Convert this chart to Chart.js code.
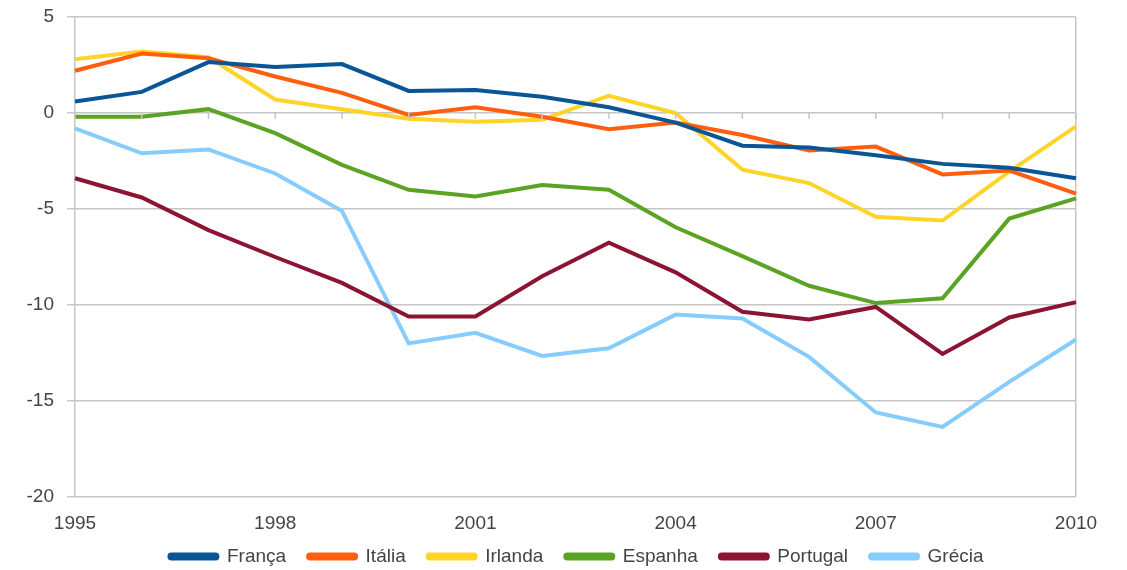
<!DOCTYPE html>
<html>
<head>
<meta charset="utf-8">
<script src="https://cdn.jsdelivr.net/npm/chart.js@4/dist/chart.umd.min.js"></script>
<style>
  html, body { margin: 0; padding: 0; background: #fff; }
  #wrap { width: 1127px; height: 570px; }
</style>
</head>
<body>
<div id="wrap"><canvas id="myChart" width="1127" height="570"></canvas></div>
<script>
// anos no eixo x
var anos = ["1995", "1996", "1997", "1998", "1999", "2000", "2001", "2002",
            "2003", "2004", "2005", "2006", "2007", "2008", "2009", "2010"];

var franca   = [0.6, 1.1, 2.65, 2.4, 2.55, 1.15, 1.2, 0.85, 0.3, -0.5, -1.7, -1.8, -2.2, -2.65, -2.85, -3.4];
var italia   = [2.2, 3.1, 2.85, 1.9, 1.05, -0.1, 0.3, -0.2, -0.85, -0.5, -1.15, -1.95, -1.75, -3.2, -3.0, -4.2];
var irlanda  = [2.8, 3.2, 2.9, 0.7, 0.2, -0.3, -0.45, -0.35, 0.9, 0, -2.95, -3.65, -5.4, -5.6, -3.05, -0.7];
var espanha  = [-0.2, -0.2, 0.2, -1.05, -2.7, -4.0, -4.35, -3.75, -4.0, -5.95, -7.45, -9.0, -9.9, -9.65, -5.5, -4.45];
var portugal = [-3.4, -4.4, -6.1, -7.5, -8.85, -10.6, -10.6, -8.5, -6.75, -8.3, -10.35, -10.75, -10.1, -12.55, -10.65, -9.85];
var grecia   = [-0.8, -2.1, -1.9, -3.15, -5.1, -12.0, -11.45, -12.65, -12.25, -10.5, -10.7, -12.7, -15.6, -16.35, -14.0, -11.8];

var fonte = "'Liberation Sans', Arial, sans-serif";
var cinza = "#c6c6c6";

function serie(nome, dados, cor) {
    return {
        label: nome,
        data: dados,
        borderColor: cor,
        backgroundColor: cor,
        borderWidth: 4,
        pointRadius: 0,
        tension: 0,
        fill: false
    };
}

// pequenos tracos dos anos sobre a linha do zero
var tracosZero = {
    id: "tracosZero",
    afterDraw: function (chart) {
        var ctx = chart.ctx;
        var x = chart.scales.x, y = chart.scales.y;
        var y0 = y.getPixelForValue(0);
        ctx.save();
        ctx.strokeStyle = cinza;
        ctx.lineWidth = 1.5;
        ctx.beginPath();
        for (var i = 0; i < anos.length; i++) {
            var px = x.getPixelForValue(i);
            ctx.moveTo(px, y0);
            ctx.lineTo(px, y0 + 6);
        }
        ctx.stroke();
        ctx.restore();
    }
};

// sobe um pouco a legenda, mais perto dos anos
var subirLegenda = {
    id: "subirLegenda",
    afterLayout: function (chart) {
        chart.legend.top -= 10;
        chart.legend.bottom -= 10;
    }
};

var ctx = document.getElementById("myChart");
var myChart = new Chart(ctx, {
    type: "line",
    data: {
        labels: anos,
        datasets: [
            serie("França", franca, "#0a5596"),
            serie("Itália", italia, "#ff5e10"),
            serie("Irlanda", irlanda, "#ffd428"),
            serie("Espanha", espanha, "#5ba323"),
            serie("Portugal", portugal, "#8c1433"),
            serie("Grécia", grecia, "#86ccff")
        ]
    },
    options: {
        responsive: false,
        animation: false,
        layout: { padding: { top: 17, right: 0, bottom: -10, left: 26 } },
        plugins: {
            tooltip: { enabled: false },
            legend: {
                position: "bottom",
                maxHeight: 45,
                labels: {
                    color: "#444",
                    font: { family: fonte, size: 19 },
                    boxWidth: 48,
                    boxHeight: 4,
                    useBorderRadius: true,
                    borderRadius: 2,
                    padding: 22
                }
            }
        },
        scales: {
            x: {
                offset: false,
                border: { display: false },
                afterFit: function (s) { s.height = 38; },
                grid: {
                    drawTicks: false,
                    lineWidth: 1.5,
                    color: function (c) {
                        return (c.index === 0 || c.index === anos.length - 1) ? cinza : "rgba(0,0,0,0)";
                    }
                },
                ticks: {
                    autoSkip: false,
                    maxRotation: 0,
                    padding: 15,
                    color: "#444",
                    font: { family: fonte, size: 19 },
                    callback: function (v, i) { return i % 3 === 0 ? anos[i] : ""; }
                }
            },
            y: {
                min: -20,
                max: 5,
                border: { display: false },
                afterFit: function (s) {
                    s.width = 49;
                    s.paddingTop = 0;
                    s.paddingBottom = 0;
                },
                grid: { color: cinza, lineWidth: 1.5, tickLength: 8 },
                ticks: {
                    stepSize: 5,
                    padding: 13,
                    color: "#444",
                    font: { family: fonte, size: 19 }
                }
            },
            direita: {
                position: "right",
                display: true,
                border: { display: false },
                grid: { display: false },
                ticks: { display: false },
                afterFit: function (s) { s.width = 51; }
            }
        }
    },
    plugins: [tracosZero, subirLegenda]
});
</script>
</body>
</html>
